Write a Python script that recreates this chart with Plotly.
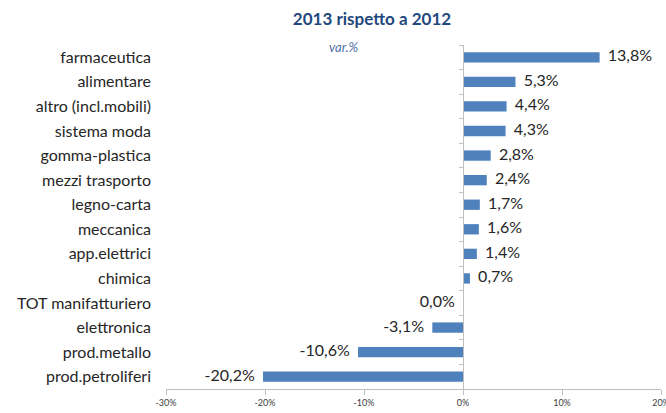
import plotly.graph_objects as go

# Sector changes, 2013 vs 2012 (percent)
categories = [
    "farmaceutica", "alimentare", "altro (incl.mobili)", "sistema moda",
    "gomma-plastica", "mezzi trasporto", "legno-carta", "meccanica",
    "app.elettrici", "chimica", "TOT manifatturiero", "elettronica",
    "prod.metallo", "prod.petroliferi",
]
values = [13.8, 5.3, 4.4, 4.3, 2.8, 2.4, 1.7, 1.6, 1.4, 0.7, 0.0, -3.1, -10.6, -20.2]
tick_vals = [-30, -20, -10, 0, 10, 20]
tick_text = ["-30%", "-20%", "-10%", "0%", "10%", "20%"]

bar_color = "#4F81BD"
axis_color = "#BFBFBF"
font_family = "Lato, 'Open Sans', sans-serif"
text_color = "#262626"

labels = [
    (f"  {v:.1f}%" if v > 0 else f"{v:.1f}%  ").replace(".", ",")
    for v in values
]
positions = ["middle right" if v > 0 else "middle left" for v in values]
cat_range = [-0.5, len(categories) - 0.5]

fig = go.Figure()
fig.add_trace(go.Bar(
    x=values, y=categories, orientation="h",
    marker=dict(color=bar_color, line=dict(width=0)),
    width=0.42, hoverinfo="skip", showlegend=False,
))
fig.add_trace(go.Scatter(
    x=values, y=categories, mode="text",
    text=labels, textposition=positions,
    textfont=dict(family=font_family, size=16, color=text_color),
    hoverinfo="skip", showlegend=False, cliponaxis=False,
))
# category axis drawn through zero, with ticks between categories
fig.add_trace(go.Scatter(
    x=[None], y=[categories[0]], yaxis="y2", mode="markers",
    hoverinfo="skip", showlegend=False,
))

zero_pos = (0 - (-30)) / (20 - (-30))
plot_top, plot_h = 45, 344

fig.update_layout(
    width=666, height=413,
    margin=dict(l=166, r=5, t=plot_top, b=413 - plot_top - plot_h),
    paper_bgcolor="white", plot_bgcolor="white",
    title=dict(
        text="<b>2013 rispetto a 2012</b>",
        x=372 / 666, xanchor="center", y=1 - 19 / 413, yanchor="middle",
        font=dict(family=font_family, size=17, color="#1F497D"),
    ),
    xaxis=dict(
        range=[-30, 20], tickvals=tick_vals, ticktext=tick_text,
        showgrid=False, zeroline=False, automargin=False,
        showline=True, linecolor=axis_color, linewidth=1,
        ticks="outside", ticklen=5, tickcolor=axis_color,
        ticklabeloverflow="allow",
        tickfont=dict(family=font_family, size=9, color="#404040"),
    ),
    yaxis=dict(
        categoryorder="array", categoryarray=categories[::-1],
        range=cat_range, autorange=False,
        showgrid=False, zeroline=False, showline=False, ticks="",
        automargin=False,
        tickfont=dict(family=font_family, size=16, color=text_color),
        ticklabelstandoff=14,
    ),
    yaxis2=dict(
        overlaying="y", anchor="free", position=zero_pos, side="left",
        categoryorder="array", categoryarray=categories[::-1],
        range=cat_range, autorange=False,
        showticklabels=False, showgrid=False, zeroline=False,
        showline=True, linecolor=axis_color, linewidth=1, automargin=False,
        ticks="outside", ticklen=4, tickcolor=axis_color, tickson="boundaries",
    ),
    annotations=[dict(
        text="<i>var.%</i>", xref="paper", yref="paper",
        x=(344 - 166) / 495, y=1 - 2 / plot_h, yanchor="middle",
        showarrow=False,
        font=dict(family=font_family, size=13, color="#4F6FA8"),
    )],
)

fig.write_html("out.html")
